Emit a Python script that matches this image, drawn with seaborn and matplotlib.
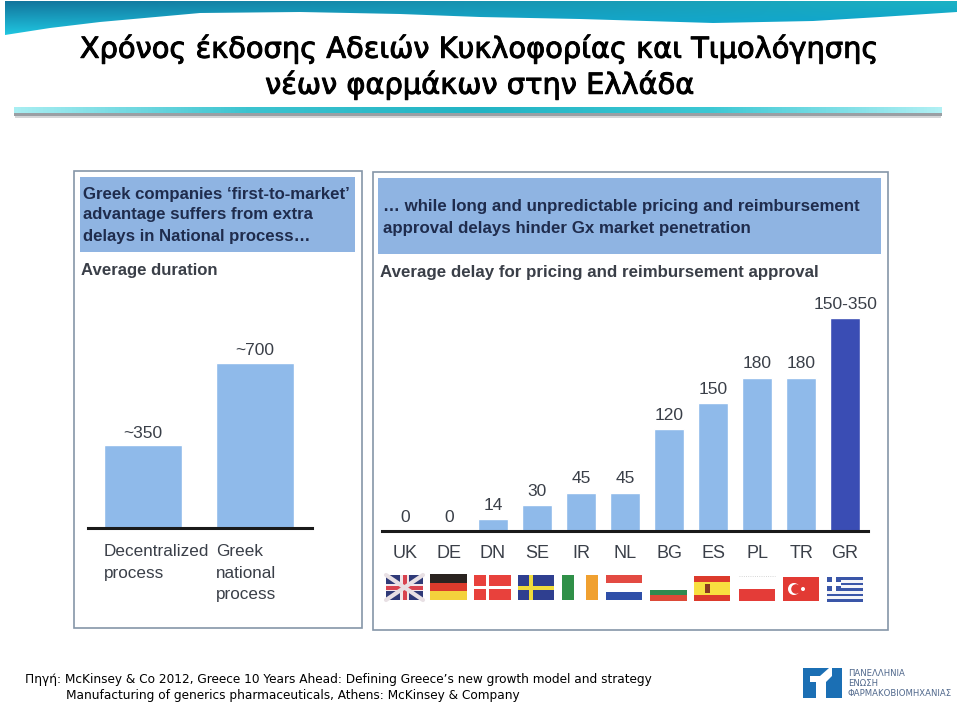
import numpy as np
import matplotlib
matplotlib.use("Agg")
import matplotlib.pyplot as plt
import matplotlib.patheffects as pe
from matplotlib.colors import LinearSegmentedColormap, to_rgb
from matplotlib.patches import Polygon, Rectangle, Circle
import seaborn as sns

W, H = 960, 706

title_lines = ["Χρόνος έκδοσης Αδειών Κυκλοφορίας και Τιμολόγησης", "νέων φαρμάκων στην Ελλάδα"]
footer_lines = ["Πηγή: McKinsey & Co 2012, Greece 10 Years Ahead: Defining Greece’s new growth model and strategy",
                "Manufacturing of generics pharmaceuticals, Athens: McKinsey & Company"]

left_cats = ["Decentralized\nprocess", "Greek\nnational\nprocess"]
left_vals = [350, 700]
left_labels = ["~350", "~700"]

right_cats = ["UK", "DE", "DN", "SE", "IR", "NL", "BG", "ES", "PL", "TR", "GR"]
right_vals = [0, 0, 14, 30, 45, 45, 120, 150, 180, 180, 250]
right_labels = ["0", "0", "14", "30", "45", "45", "120", "150", "180", "180", "150-350"]

BAR = "#8fbaea"
DARK = "#3a4db4"
HEAD = "#8fb4e2"
NAVY = "#1f2c4d"
GREY = "#3a3f48"

sns.set_theme(style="white")
plt.rcParams["font.family"] = ["Liberation Sans", "DejaVu Sans"]


def px_axes(fig, x0, y0, x1, y1, **kw):
    return fig.add_axes([x0 / W, 1 - y1 / H, (x1 - x0) / W, (y1 - y0) / H], **kw)


def stripes_h(bg, x, y, w, h, colors):
    n = len(colors)
    for i, c in enumerate(colors):
        bg.add_patch(Rectangle((x, y + i * h / n), w, h / n, fc=c, ec="none"))


def stripes_v(bg, x, y, w, h, colors):
    n = len(colors)
    for i, c in enumerate(colors):
        bg.add_patch(Rectangle((x + i * w / n, y), w / n, h, fc=c, ec="none"))


def cross(bg, x, y, w, h, base, arm, t=3.5):
    bg.add_patch(Rectangle((x, y), w, h, fc=base, ec="none"))
    bg.add_patch(Rectangle((x, y + h / 2 - t / 2), w, t, fc=arm, ec="none"))
    bg.add_patch(Rectangle((x + w * 0.36 - t / 2, y), t, h, fc=arm, ec="none"))


def draw_flags(bg):
    y, h, w = 575, 25, 37
    # UK
    x = 386
    bg.add_patch(Rectangle((x, y), w, h, fc="#2f3a78", ec="none"))
    bg.plot([x, x + w], [y, y + h], color="#e8e0e4", lw=3)
    bg.plot([x, x + w], [y + h, y], color="#e8e0e4", lw=3)
    bg.add_patch(Rectangle((x, y + 9), w, 7, fc="#f2e6ea", ec="none"))
    bg.add_patch(Rectangle((x + 14, y), 9, h, fc="#f2e6ea", ec="none"))
    bg.add_patch(Rectangle((x, y + 10.5), w, 4, fc="#d8434f", ec="none"))
    bg.add_patch(Rectangle((x + 16.5, y), 4, h, fc="#d8434f", ec="none"))
    stripes_h(bg, 430, 574, 37, 26, ["#2a2320", "#dc3b2c", "#f4d23c"])
    cross(bg, 474, 575, 37, 25, "#e8413c", "#ffffff")
    cross(bg, 518, 575, 36, 25, "#2f3f90", "#f0dc3c", 4)
    stripes_v(bg, 562, 575, 36, 25, ["#2f9048", "#ffffff", "#f0a030"])
    stripes_h(bg, 606, 575, 36, 25, ["#e34a42", "#ffffff", "#2f4fa8"])
    stripes_h(bg, 650, 584, 37, 17, ["#ffffff", "#2f8a50", "#dc4a38"])
    stripes_h(bg, 694, 576, 36, 25, ["#dc3a2c", "#f8e040", "#f8e040", "#dc3a2c"])
    bg.add_patch(Rectangle((705, 584), 5, 9, fc="#8a3a20", ec="none"))
    bg.plot([739, 775], [576, 576], color="#c8c8c8", lw=0.6, ls=":")
    stripes_h(bg, 739, 576, 36, 25, ["#ffffff", "#e43c38"])
    bg.add_patch(Rectangle((783, 577), 36, 24, fc="#e23a34", ec="none"))
    bg.add_patch(Circle((794, 589), 6, fc="#ffffff", ec="none"))
    bg.add_patch(Circle((796, 589), 4.8, fc="#e23a34", ec="none"))
    bg.add_patch(Circle((803, 589), 2, fc="#ffffff", ec="none"))
    stripes_h(bg, 827, 577, 36, 25, ["#3a56a8", "#f4f4f8"] * 4 + ["#3a56a8"])
    bg.add_patch(Rectangle((827, 577), 14, 14, fc="#3a56a8", ec="none"))
    bg.add_patch(Rectangle((832, 577), 4, 14, fc="#ffffff", ec="none"))
    bg.add_patch(Rectangle((827, 582), 14, 4, fc="#ffffff", ec="none"))


def draw_logo(bg):
    blue = "#1b6fb4"
    bg.add_patch(Polygon([(803, 668), (842, 668), (842, 698), (826, 698), (826, 682),
                          (816, 682), (816, 698), (803, 698)], fc=blue, ec="none"))
    bg.add_patch(Polygon([(810, 676), (820, 676), (829, 668), (832, 668), (832, 676),
                          (826, 682), (810, 682)], fc="#ffffff", ec="none"))
    for txt, y in zip(["ΠΑΝΕΛΛΗΝΙΑ", "ΕΝΩΣΗ", "ΦΑΡΜΑΚΟΒΙΟΜΗΧΑΝΙΑΣ"], [673, 684, 694]):
        bg.text(848, y, txt, fontsize=6.1, color="#50688c", va="center", ha="left", family="DejaVu Sans")


def wave_image():
    # corner colours of the banner, mixed across and down
    tl, tr = np.array(to_rgb("#12749c")), np.array(to_rgb("#1cb2c4"))
    bl, br = np.array(to_rgb("#20c6e0")), np.array(to_rgb("#089fd2"))
    u = np.linspace(0, 1, 256)[None, :, None]
    v = np.linspace(0, 1, 36)[:, None, None]
    return (1 - v) * ((1 - u) * tl + u * tr) + v * ((1 - u) * bl + u * br)


def draw_background(fig):
    bg = px_axes(fig, 0, 0, W, H)
    bg.set_xlim(0, W)
    bg.set_ylim(H, 0)
    bg.axis("off")

    # wave at the top
    im = bg.imshow(wave_image(), extent=[5, 957, 35, 1], aspect="auto", zorder=1, interpolation="bilinear")
    xs = [5, 50, 100, 200, 300, 400, 480, 580, 713, 813, 880, 957]
    ys = [35, 28, 22, 13, 12, 14, 17, 19, 23, 21, 17, 12]
    wave = Polygon([(5, 1), (957, 1)] + list(zip(xs[::-1], ys[::-1])), transform=bg.transData, fc="none", ec="none")
    bg.add_patch(wave)
    im.set_clip_path(wave)

    # rule under the title
    cmap2 = LinearSegmentedColormap.from_list("rule", ["#a8eef2", "#3cc4d0", "#22b4c4", "#3cc8d4", "#b0f0f4"])
    bg.imshow(np.linspace(0, 1, 256).reshape(1, -1), extent=[14, 942, 113, 107], cmap=cmap2, aspect="auto", zorder=1)
    bg.add_patch(Rectangle((14, 113), 928, 3, fc="#9a9fa4", ec="none"))
    bg.add_patch(Rectangle((15, 116), 926, 1.5, fc="#d4d6d8", ec="none"))
    bg.set_xlim(0, W)
    bg.set_ylim(H, 0)

    # panels
    bg.add_patch(Rectangle((74, 171), 288, 457, fc="white", ec="#8596a8", lw=1.2))
    bg.add_patch(Rectangle((373, 172), 515, 458, fc="white", ec="#8596a8", lw=1.2))
    bg.add_patch(Rectangle((80, 177), 275, 75, fc=HEAD, ec="none"))
    bg.add_patch(Rectangle((378, 178), 503, 76, fc=HEAD, ec="none"))

    for txt, y in zip(["Greek companies ‘first-to-market’", "advantage suffers from extra", "delays in National process…"],
                      [194, 215, 236]):
        bg.text(83, y, txt, fontsize=12.1, fontweight="bold", color=NAVY, va="center", ha="left")
    bg.text(81, 270, "Average duration", fontsize=12.1, fontweight="bold", color=GREY, va="center", ha="left")
    for txt, y in zip(["… while long and unpredictable pricing and reimbursement", "approval delays hinder Gx market penetration"],
                      [206, 228]):
        bg.text(383, y, txt, fontsize=12.15, fontweight="bold", color=NAVY, va="center", ha="left")
    bg.text(380, 272, "Average delay for pricing and reimbursement approval", fontsize=12.2, fontweight="bold",
            color=GREY, va="center", ha="left")

    # heading and source
    for txt, y in zip(title_lines, [49, 85]):
        bg.text(480, y, txt, fontsize=20.8, color="black", va="center", ha="center", family="DejaVu Sans",
                path_effects=[pe.withStroke(linewidth=0.7, foreground="black")])
    bg.text(25, 679, footer_lines[0], fontsize=8.7, color="black", va="center", ha="left", family="DejaVu Sans")
    bg.text(66, 695, footer_lines[1], fontsize=8.7, color="black", va="center", ha="left", family="DejaVu Sans")

    draw_flags(bg)
    draw_logo(bg)


def style_axis(ax):
    sns.despine(ax=ax, left=True)
    ax.spines["bottom"].set_color("#1a1a1a")
    ax.spines["bottom"].set_linewidth(2.2)
    ax.patch.set_alpha(0)
    ax.set_xlabel("")
    ax.set_ylabel("")
    ax.set_yticks([])
    ax.tick_params(axis="x", length=0)


def bar_labels(ax, bars, labels, pad):
    for bar, lab in zip(bars, labels):
        ax.annotate(lab, (bar.get_x() + bar.get_width() / 2, bar.get_height()), xytext=(0, pad),
                    textcoords="offset points", ha="center", va="bottom", fontsize=12.5, color=GREY)


def left_panel(fig):
    ax = px_axes(fig, 88, 300, 312, 528)
    sns.barplot(x=left_cats, y=left_vals, color=BAR, saturation=1, width=0.7, ax=ax)
    ax.set_xlim(-0.49, 1.51)
    ax.set_ylim(0, 966)
    style_axis(ax)
    bars = list(ax.patches)
    bar_labels(ax, bars, left_labels, 3.5)
    ax.set_xticklabels([])
    for bar, lab in zip(bars, left_cats):
        ax.annotate(lab, (bar.get_x(), 0), xytext=(0, -11.5), textcoords="offset points", ha="left", va="top",
                    fontsize=12.3, color=GREY, linespacing=1.55)


def right_panel(fig):
    ax = px_axes(fig, 382, 290, 868, 531)
    colors = [BAR] * 10 + [DARK]
    sns.barplot(x=right_cats, y=right_vals, hue=right_cats, palette=colors, saturation=1, legend=False, width=0.68, ax=ax)
    ax.set_xlim(-0.52, 10.52)
    ax.set_ylim(0, 283)
    style_axis(ax)
    bars = [b for b in ax.patches if b.get_width() > 0][:11]
    order = sorted(bars, key=lambda b: b.get_x())
    bar_labels(ax, order, right_labels, 4.5)
    ax.set_xticks(range(11))
    ax.set_xticklabels(right_cats, fontsize=13, color=GREY)
    ax.tick_params(axis="x", pad=10)


def main():
    fig = plt.figure(figsize=(W / 100, H / 100), dpi=100)
    fig.patch.set_facecolor("white")
    draw_background(fig)
    left_panel(fig)
    right_panel(fig)
    fig.savefig("out.png", dpi=100)


if __name__ == "__main__":
    main()
